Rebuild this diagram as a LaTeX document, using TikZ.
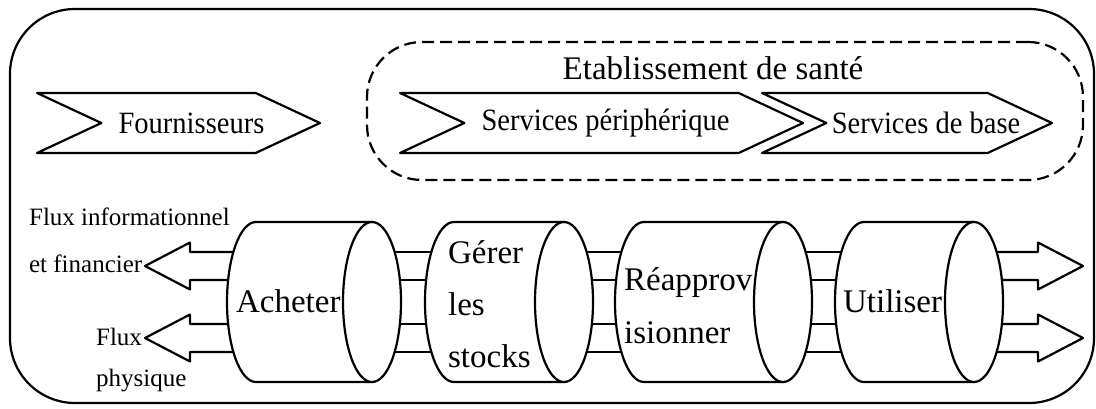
\documentclass[tikz,border=0pt]{standalone}
\usepackage{fontspec}
\setmainfont{Liberation Serif}
\newfontfamily\chevfont{Liberation Serif}[FakeStretch=0.92]
\usepackage{tikz}
\usetikzlibrary{shapes.symbols, positioning}

\begin{document}
\begin{tikzpicture}[x=1pt, y=1pt, line width=2.2pt, line join=round,
    chevron/.style={signal, draw, signal to=east, signal from=west,
      signal pointer angle=50, minimum height=60pt, inner sep=0pt, outer sep=0pt},
    chevlabel/.style={inner sep=0pt, font=\chevfont\fontsize{31}{31}\selectfont},
    cylbody/.style={minimum height=160pt, inner sep=0pt, outer sep=0pt},
    cyltext/.style={align=left, inner sep=0pt, anchor=base west,
      font=\fontsize{33}{52}\selectfont},
    flowlabel/.style={align=left, inner sep=0pt, anchor=base west,
      font=\fontsize{25}{47}\selectfont},
    flow/.style={fill=white}]
	\useasboundingbox (0,0) rectangle (1096,408);

	% cadre general
	\draw[rounded corners=65pt] (10,5) rectangle (1094,399);

	% acteurs
	\node[chevron, minimum width=283pt,
	  label={[chevlabel, xshift=13pt]center:Fournisseurs}] (fourn) at (178.5,285) {};
	\node[draw, dash pattern=on 12pt off 6pt, rounded corners=55pt,
	  minimum width=716pt, minimum height=138pt] (etab) at (725,297) {};
	\node[anchor=base, font=\fontsize{33}{33}\selectfont] (etabtitle) at (713,328) {Etablissement de santé};
	\node[chevron, minimum width=403pt,
	  label={[chevlabel, xshift=4pt]center:Services périphérique}] (periph) at (601.5,285) {};
	\node[chevron, minimum width=290pt,
	  label={[chevlabel, xshift=19pt]center:Services de base}] (base) at (907,285) {};

	% processus
	\foreach \n/\xl/\xr in {ach/256/372, ger/454/564, rea/644/783, uti/864/974}
	  \node[cylbody, minimum width={(\xr-\xl)*1pt}] (\n) at ({(\xl+\xr)/2},106) {};

	% flux entre les processus
	\foreach \a/\b in {ach/ger, ger/rea, rea/uti}
	  \foreach \d in {50,22,-22,-50}
	    \draw ([yshift=\d pt]\a.east) -- ([yshift=\d pt]\b.west);

	\draw[flow] ([yshift=50pt]ach.west) -- ++(-66,0) -- ++(0,9.5)
	  -- ++(-45,-23.5) coordinate (tinfo) -- ++(45,-23.5) -- ++(0,9.5) -- ([yshift=22pt]ach.west);
	\draw[flow] ([yshift=-22pt]ach.west) -- ++(-66,0) -- ++(0,9.5)
	  -- ++(-45,-23.5) coordinate (tphys) -- ++(45,-23.5) -- ++(0,9.5) -- ([yshift=-50pt]ach.west);
	\draw[flow] ([yshift=50pt]uti.east) -- ++(64,0) -- ++(0,9.5)
	  -- ++(45,-23.5) -- ++(-45,-23.5) -- ++(0,9.5) -- ([yshift=22pt]uti.east);
	\draw[flow] ([yshift=-22pt]uti.east) -- ++(64,0) -- ++(0,9.5)
	  -- ++(45,-23.5) -- ++(-45,-23.5) -- ++(0,9.5) -- ([yshift=-50pt]uti.east);

	\foreach \n in {ach, ger, rea, uti} {
	  \filldraw[fill=white] (\n.north west) arc[start angle=90, end angle=270,
	    x radius=29pt, y radius=80pt] -- (\n.south east) -- (\n.north east) -- cycle;
	  \filldraw[fill=white] (\n.east) ellipse[x radius=29pt, y radius=80pt];
	}

	\node[cyltext] (tach) at (235,96) {Acheter};
	\node[cyltext] (tger) at (447,41) {Gérer\\les\\stocks};
	\node[cyltext, font=\fontsize{33}{53}\selectfont] (trea) at (623,65) {Réapprov\\isionner};
	\node[cyltext] (tuti) at (842,96) {Utiliser};

	\node[flowlabel] (linfo) at (28,136) {Flux informationnel\\et financier};
	\node[flowlabel, font=\fontsize{25}{41}\selectfont] (lphys) at (95,22) {Flux\\physique};
\end{tikzpicture}
\end{document}
